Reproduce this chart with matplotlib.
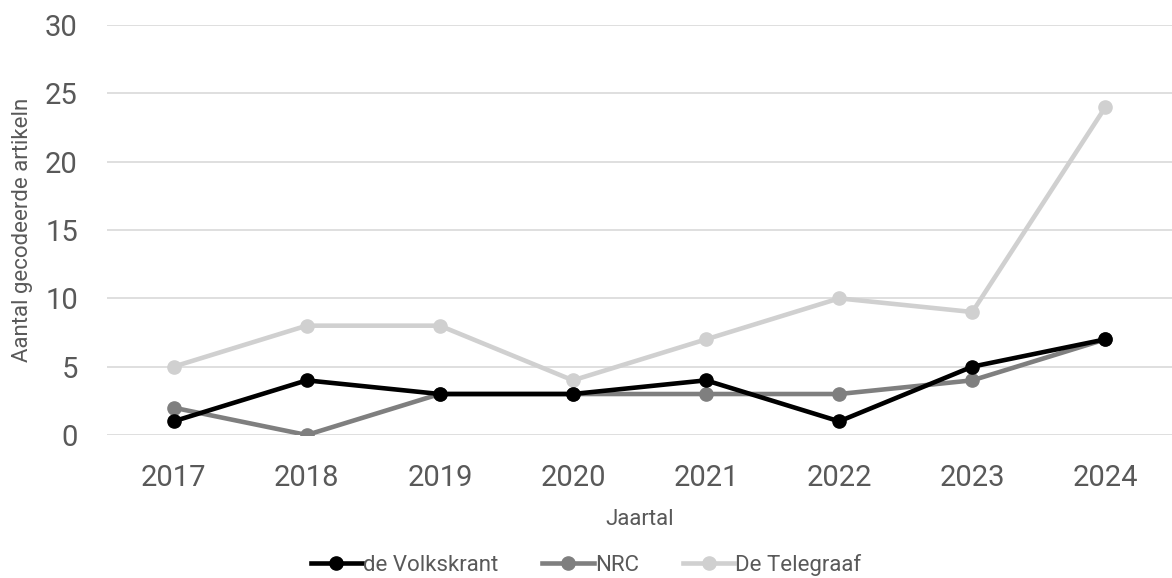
import matplotlib.pyplot as plt

plt.rcParams["font.family"] = ["Roboto", "DejaVu Sans"]

years = ["2017", "2018", "2019", "2020", "2021", "2022", "2023", "2024"]
volkskrant = [1, 4, 3, 3, 4, 1, 5, 7]
nrc = [2, 0, 3, 3, 3, 3, 4, 7]
telegraaf = [5, 8, 8, 4, 7, 10, 9, 24]

TEXT = "#595959"

fig = plt.figure(figsize=(11.72, 5.78), dpi=100)
ax = fig.add_axes([0.0913, 0.2474, 0.9087, 0.7093])

x = range(len(years))
series = [
    ("de Volkskrant", volkskrant, "#000000"),
    ("NRC", nrc, "#7f7f7f"),
    ("De Telegraaf", telegraaf, "#d0d0d0"),
]
# light series first so the black one sits on top
for label, vals, color in reversed(series):
    ax.plot(x, vals, color=color, lw=3.3, marker="o", ms=9.5,
            label=label, solid_joinstyle="round", zorder=3)

ax.set_xlim(-0.5, len(years) - 0.5)
ax.set_ylim(0, 30)
ax.set_yticks(range(0, 31, 5))
ax.set_xticks(list(x))
ax.set_xticklabels(years)
ax.tick_params(axis="both", length=0, labelsize=21, colors=TEXT)
ax.tick_params(axis="x", pad=21)
ax.tick_params(axis="y", pad=21)
ax.grid(axis="y", color="#d9d9d9", lw=1.2)
ax.set_axisbelow(True)
for s in ax.spines.values():
    s.set_visible(False)

ax.set_xlabel("Jaartal", fontsize=16, color=TEXT, labelpad=12)
ax.set_ylabel("Aantal gecodeerde artikeln", fontsize=16, color=TEXT, labelpad=9)

handles, labels = ax.get_legend_handles_labels()
leg = fig.legend(handles[::-1], labels[::-1], loc="center", bbox_to_anchor=(0.5, 0.023),
                 ncol=3, frameon=False, fontsize=16, handlelength=2.3,
                 handletextpad=0.05, columnspacing=2.0)
for t in leg.get_texts():
    t.set_color(TEXT)

fig.savefig("out.png", dpi=100)
